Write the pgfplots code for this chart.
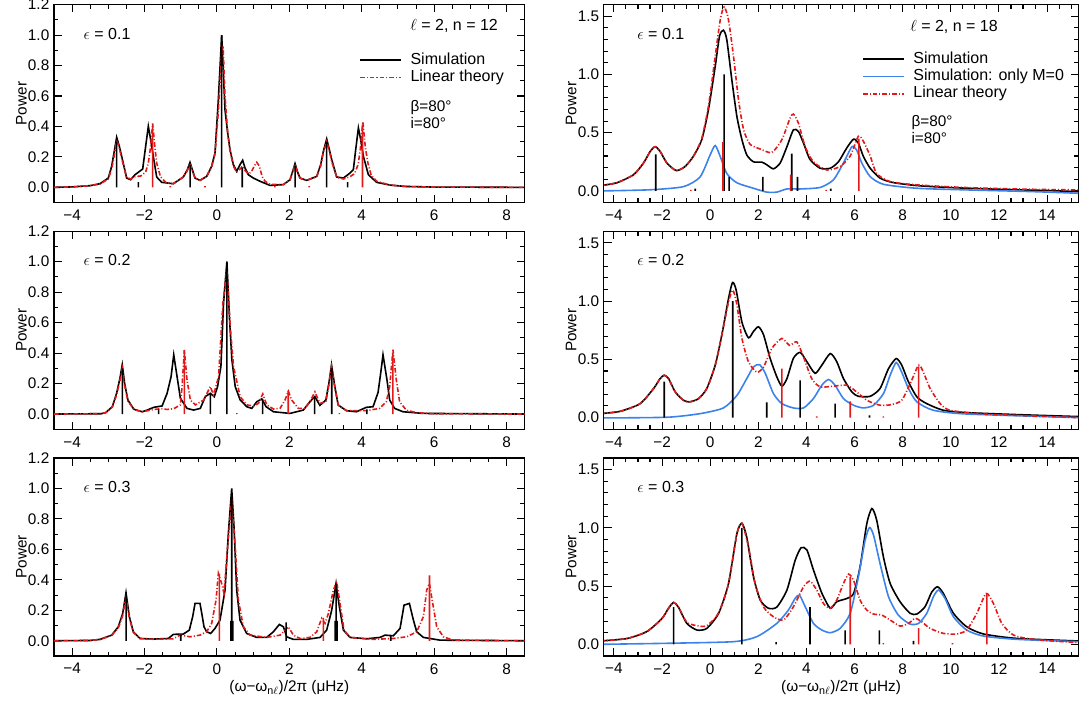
\documentclass[border=0pt]{standalone}
\usepackage{fontspec}
\setmainfont{Liberation Sans}
\usepackage{pgfplots}
\pgfplotsset{compat=1.18}
\definecolor{myred}{RGB}{225,25,25}
\definecolor{myblue}{RGB}{60,130,235}
\newcommand{\fs}{\fontsize{11.5}{12}\selectfont}
\newcommand{\fl}{\fontsize{12}{12}\selectfont}
\newcommand{\fb}{\fontsize{11.5}{12.6}\selectfont}
\pgfplotsset{
 base/.style={scale only axis, height=148.5pt, ymin=-0.1,
   axis line style={line width=0.9pt}, tick style={line width=0.8pt, black},
   major tick length=5.8pt, minor tick length=3.2pt,
   tick align=inside, tick label style={font=\fs},
   /pgf/number format/assume math mode=true,
   xticklabel style={yshift=-2pt},
   ylabel={Power},
   every axis y label/.style={at={(axis description cs:0,0.5)}, xshift=-24.5pt, rotate=90, anchor=center, font=\fs},
   every axis x label/.style={at={(axis description cs:0.5,0)}, anchor=center, yshift=-24pt, font=\fs},
   legend cell align=left,
   legend image code/.code={\draw[##1] (0pt,0pt) -- (30.75pt,0pt);},
 },
 lpanel/.style={base, width=353pt, xmin=-4.5, xmax=8.5, ymax=1.2,
   xtick={-4,-2,0,2,4,6,8}, xticklabels={−4,−2,0,2,4,6,8},
   minor xtick={-4.5,-4,...,8.5},
   ytick={0,0.2,0.4,0.6,0.8,1.0,1.2}, yticklabels={0.0,0.2,0.4,0.6,0.8,1.0,1.2},
   minor ytick={-0.1,0.1,0.3,0.5,0.7,0.9,1.1}},
 rpanel/.style={base, width=355.9pt, xmin=-4.42, xmax=15.3, ymax=1.6,
   xtick={-4,-2,0,2,4,6,8,10,12,14}, xticklabels={−4,−2,0,2,4,6,8,10,12,14},
   minor xtick={-4,-3.5,...,15},
   ytick={0,0.5,1,1.5}, yticklabels={0.0,0.5,1.0,1.5},
   minor ytick={-0.1,0.1,0.2,0.3,0.4,0.6,0.7,0.8,0.9,1.1,1.2,1.3,1.4,1.6}},
 sim/.style={black, line width=1.2pt},
 mzero/.style={myblue, line width=1.2pt},
 lin/.style={myred, line width=1.2pt, dash pattern=on 3.5pt off 1.5pt on 0.8pt off 1.5pt},
 kst/.style={ybar, bar width=1.2pt, bar shift=0pt, fill=black, draw=none, forget plot},
 rst/.style={ybar, bar width=1.2pt, bar shift=0pt, fill=myred, draw=none, forget plot},
 lg/.style={legend style={draw=none, fill=none, inner sep=0pt, row sep=0pt, font=\fl,
   nodes={inner sep=0.5pt, text height=9pt, text depth=3pt}}},
}
\tikzset{every odd column/.append style={column sep=6pt}}
\begin{document}
\begin{tikzpicture}
\path[use as bounding box] (0,0) rectangle (813pt,528.75pt);

% ---------- left, row 1 ----------
\begin{axis}[lpanel, lg, at={(40.5pt,376.8pt)}, anchor=south west,
  legend style={at={(axis description cs:0.648,0.765)}, anchor=north west}]
\addplot[sim] coordinates {(-4.5,0) (-4,0.003) (-3.506,0.011) (-3.23,0.024) (-3.0,0.061) (-2.908,0.138) (-2.843,0.226) (-2.769,0.329) (-2.696,0.27) (-2.631,0.204) (-2.493,0.061) (-2.383,0.05) (-2.263,0.083) (-2.051,0.12) (-1.968,0.27) (-1.895,0.401) (-1.83,0.313) (-1.757,0.204) (-1.664,0.068) (-1.526,0.033) (-1.204,0.024) (-0.928,0.068) (-0.817,0.116) (-0.744,0.164) (-0.679,0.116) (-0.605,0.061) (-0.467,0.046) (-0.283,0.072) (-0.145,0.138) (-0.053,0.226) (0.039,0.576) (0.131,1.0) (0.223,0.51) (0.297,0.357) (0.361,0.248) (0.453,0.149) (0.545,0.105) (0.638,0.149) (0.711,0.178) (0.776,0.127) (0.868,0.083) (1.006,0.061) (1.19,0.04) (1.466,0.013) (1.835,0.018) (2.019,0.05) (2.093,0.105) (2.157,0.156) (2.221,0.105) (2.295,0.061) (2.479,0.046) (2.756,0.072) (2.866,0.149) (2.94,0.237) (3.032,0.318) (3.105,0.248) (3.17,0.182) (3.308,0.068) (3.492,0.061) (3.676,0.094) (3.768,0.116) (3.833,0.248) (3.907,0.39) (3.971,0.313) (4.045,0.204) (4.183,0.083) (4.413,0.033) (4.781,0.015) (5.2,0.006) (6,0.002) (8.5,0)};
\addlegendentry{Simulation}
\addplot[lin] coordinates {(-4.5,0) (-4,0.003) (-3.506,0.011) (-3.23,0.022) (-3.0,0.055) (-2.908,0.12) (-2.843,0.2) (-2.769,0.31) (-2.696,0.26) (-2.631,0.19) (-2.493,0.065) (-2.383,0.055) (-2.263,0.07) (-2.1,0.075) (-1.968,0.1) (-1.895,0.16) (-1.83,0.27) (-1.775,0.42) (-1.72,0.28) (-1.664,0.16) (-1.56,0.07) (-1.4,0.03) (-1.204,0.024) (-0.928,0.068) (-0.817,0.11) (-0.744,0.155) (-0.679,0.11) (-0.605,0.06) (-0.467,0.046) (-0.283,0.072) (-0.145,0.138) (-0.053,0.22) (0.039,0.5) (0.13,0.88) (0.17,0.93) (0.223,0.6) (0.297,0.36) (0.361,0.24) (0.453,0.14) (0.545,0.1) (0.638,0.12) (0.711,0.14) (0.776,0.11) (0.868,0.09) (0.95,0.1) (1.03,0.14) (1.1,0.165) (1.17,0.14) (1.25,0.07) (1.33,0.04) (1.466,0.02) (1.835,0.018) (2.019,0.05) (2.093,0.1) (2.157,0.15) (2.221,0.1) (2.295,0.06) (2.479,0.046) (2.756,0.07) (2.866,0.14) (2.94,0.23) (3.032,0.3) (3.105,0.24) (3.17,0.17) (3.308,0.066) (3.492,0.055) (3.676,0.07) (3.8,0.09) (3.9,0.15) (3.96,0.25) (4.03,0.43) (4.1,0.26) (4.17,0.16) (4.26,0.08) (4.413,0.04) (4.781,0.015) (5.2,0.006) (6,0.002) (8.5,0)};
\addlegendentry{Linear theory}
\addplot[kst] coordinates {(-2.77,0.30) (-2.17,0.035) (-0.74,0.15) (0.13,1.0) (0.70,0.13) (2.16,0.14) (3.03,0.30) (3.61,0.035)};
\addplot[rst] coordinates {(-1.775,0.40) (4.02,0.41) (-1.29,0.008) (-0.33,0.008) (1.6,0.008) (2.55,0.008)};
\node[anchor=west, font=\fl] at (axis description cs:0.053,0.854) {$\epsilon$ = 0.1};
\node[anchor=center, font=\fl] at (axis description cs:0.85,0.891) {$\ell$ = 2, n = 12};
\node[anchor=north west, font=\fb, align=left, inner sep=0pt] at (axis description cs:0.757,0.518) {β=80°\\i=80°};
\end{axis}

% ---------- left, row 2 ----------
\begin{axis}[lpanel, at={(40.5pt,206.8pt)}, anchor=south west]
\addplot[sim] coordinates {(-4.5,0) (-3.2,0.002) (-3.073,0.009) (-2.89,0.048) (-2.771,0.136) (-2.679,0.235) (-2.615,0.323) (-2.55,0.202) (-2.459,0.092) (-2.294,0.031) (-2.064,0.015) (-1.927,0.026) (-1.743,0.044) (-1.514,0.053) (-1.376,0.136) (-1.266,0.246) (-1.193,0.389) (-1.101,0.246) (-1.009,0.103) (-0.826,0.037) (-0.642,0.026) (-0.459,0.037) (-0.321,0.114) (-0.183,0.136) (-0.073,0.114) (0.018,0.18) (0.11,0.312) (0.183,0.73) (0.275,1.0) (0.349,0.62) (0.413,0.356) (0.505,0.18) (0.642,0.092) (0.826,0.048) (0.963,0.037) (1.101,0.081) (1.239,0.099) (1.358,0.048) (1.56,0.015) (2.018,0.004) (2.385,0.026) (2.569,0.081) (2.706,0.114) (2.844,0.057) (3.009,0.092) (3.092,0.202) (3.165,0.323) (3.257,0.18) (3.349,0.059) (3.578,0.022) (3.853,0.015) (4.128,0.044) (4.312,0.048) (4.45,0.141) (4.523,0.268) (4.587,0.389) (4.697,0.224) (4.771,0.092) (4.908,0.037) (5.138,0.015) (5.688,0.004) (8.5,0)};
\addplot[lin] coordinates {(-4.5,0) (-3.2,0.002) (-3.073,0.009) (-2.89,0.045) (-2.771,0.125) (-2.679,0.22) (-2.615,0.30) (-2.55,0.19) (-2.459,0.085) (-2.294,0.03) (-2.064,0.015) (-1.743,0.03) (-1.514,0.035) (-1.376,0.03) (-1.193,0.035) (-1.009,0.06) (-0.963,0.18) (-0.9,0.42) (-0.826,0.224) (-0.734,0.092) (-0.596,0.06) (-0.367,0.092) (-0.183,0.18) (-0.092,0.125) (0.046,0.246) (0.165,0.73) (0.275,0.95) (0.367,0.576) (0.459,0.312) (0.642,0.114) (0.826,0.06) (1.009,0.053) (1.147,0.07) (1.266,0.132) (1.376,0.06) (1.56,0.033) (1.743,0.037) (1.881,0.092) (1.972,0.15) (2.064,0.092) (2.248,0.037) (2.431,0.037) (2.569,0.08) (2.706,0.145) (2.844,0.07) (3.009,0.08) (3.092,0.19) (3.165,0.31) (3.257,0.17) (3.349,0.06) (3.578,0.022) (4.128,0.022) (4.495,0.037) (4.679,0.081) (4.771,0.18) (4.862,0.422) (4.954,0.224) (5.046,0.081) (5.229,0.026) (5.505,0.009) (6,0.002) (8.5,0)};
\addplot[kst] coordinates {(-2.61,0.30) (-1.61,0.03) (-0.18,0.13) (0.275,1.0) (1.26,0.10) (2.7,0.11) (3.17,0.30) (4.14,0.03)};
\addplot[rst] coordinates {(-0.9,0.42) (1.97,0.15) (4.86,0.40) (0.55,0.006) (3.38,0.006)};
\node[anchor=west, font=\fl] at (axis description cs:0.053,0.854) {$\epsilon$ = 0.2};
\end{axis}

% ---------- left, row 3 ----------
\begin{axis}[lpanel, at={(40.5pt,36.75pt)}, anchor=south west,
  xlabel={(ω−ω\textsubscript{n$\ell$})/2π (μHz)}]
\addplot[sim] coordinates {(-4.5,0) (-3.506,0.002) (-3.23,0.009) (-2.907,0.037) (-2.723,0.092) (-2.603,0.179) (-2.511,0.315) (-2.419,0.158) (-2.309,0.059) (-2.125,0.015) (-1.756,0.011) (-1.342,0.015) (-1.204,0.042) (-0.928,0.044) (-0.762,0.07) (-0.67,0.158) (-0.605,0.245) (-0.467,0.245) (-0.403,0.158) (-0.357,0.092) (-0.283,0.059) (-0.173,0.048) (-0.053,0.081) (0.085,0.136) (0.224,0.333) (0.316,0.705) (0.408,1.0) (0.472,0.748) (0.546,0.333) (0.638,0.136) (0.822,0.048) (1.098,0.022) (1.374,0.022) (1.559,0.059) (1.724,0.107) (1.835,0.092) (1.927,0.026) (2.111,0.009) (2.479,0.009) (2.848,0.022) (3.032,0.07) (3.17,0.201) (3.29,0.376) (3.382,0.223) (3.493,0.07) (3.677,0.022) (4.137,0.013) (4.505,0.022) (4.643,0.037) (4.874,0.033) (5.058,0.081) (5.168,0.234) (5.316,0.245) (5.426,0.136) (5.518,0.059) (5.702,0.022) (6.163,0.004) (8.5,0)};
\addplot[lin] coordinates {(-4.5,0) (-3.506,0.002) (-3.23,0.008) (-2.907,0.035) (-2.723,0.085) (-2.603,0.165) (-2.511,0.29) (-2.419,0.15) (-2.309,0.055) (-2.125,0.015) (-1.756,0.01) (-1.342,0.012) (-1.204,0.013) (-1.02,0.037) (-0.743,0.026) (-0.467,0.037) (-0.283,0.059) (-0.145,0.114) (-0.025,0.267) (0.04,0.442) (0.131,0.376) (0.196,0.31) (0.288,0.595) (0.408,0.923) (0.5,0.639) (0.592,0.267) (0.73,0.092) (0.914,0.037) (1.374,0.022) (1.743,0.037) (1.881,0.07) (1.973,0.092) (2.111,0.037) (2.295,0.015) (2.571,0.022) (2.756,0.059) (2.894,0.147) (2.986,0.114) (3.078,0.179) (3.216,0.333) (3.308,0.387) (3.4,0.245) (3.511,0.07) (3.677,0.022) (4.321,0.009) (4.874,0.015) (5.242,0.026) (5.518,0.059) (5.702,0.158) (5.794,0.333) (5.868,0.376) (5.96,0.245) (6.07,0.092) (6.255,0.026) (6.531,0.004) (8.5,0)};
\addplot[kst] coordinates {(-2.51,0.32) (-1.0,0.04) (0.41,0.95) (1.91,0.12) (3.29,0.37) (4.8,0.03)};
\addplot[kst, bar width=2.6pt] coordinates {(0.41,0.13) (3.29,0.13)};
\addplot[rst] coordinates {(0.067,0.44) (2.94,0.15) (5.87,0.43)};
\node[anchor=west, font=\fl] at (axis description cs:0.053,0.854) {$\epsilon$ = 0.3};
\end{axis}

% ---------- right, row 1 ----------
\begin{axis}[rpanel, lg, at={(452.85pt,376.8pt)}, anchor=south west,
  legend style={at={(axis description cs:0.544,0.77)}, anchor=north west}]
\addplot[sim, smooth, tension=0.4] coordinates {(-4.57,0.046) (-3.88,0.07) (-3.18,0.14) (-2.77,0.24) (-2.49,0.34) (-2.285,0.38) (-2.08,0.34) (-1.8,0.24) (-1.41,0.175) (-1.04,0.21) (-0.69,0.30) (-0.35,0.44) (-0.07,0.70) (0.21,1.07) (0.39,1.33) (0.55,1.38) (0.69,1.30) (0.9,0.955) (1.11,0.64) (1.32,0.44) (1.52,0.31) (1.8,0.25) (2.15,0.247) (2.35,0.225) (2.63,0.19) (2.91,0.24) (3.19,0.38) (3.46,0.525) (3.67,0.51) (3.88,0.41) (4.15,0.27) (4.57,0.195) (4.99,0.195) (5.33,0.25) (5.68,0.37) (5.96,0.445) (6.16,0.41) (6.37,0.295) (6.65,0.195) (7.06,0.11) (7.6,0.072) (8.59,0.046) (9.97,0.029) (12.05,0.014) (14.1,0.003) (15.3,-0.006)};
\addlegendentry{Simulation}
\addplot[mzero, smooth, tension=0.4] coordinates {(-4.57,0.0) (-2.49,0.01) (-1.11,0.037) (-0.42,0.12) (0.0,0.31) (0.21,0.39) (0.42,0.295) (0.69,0.15) (1.11,0.07) (1.8,0.023) (2.35,-0.01) (2.77,-0.01) (3.19,0.017) (3.74,0.017) (4.57,0.03) (5.12,0.095) (5.54,0.24) (5.89,0.38) (6.09,0.35) (6.3,0.24) (6.65,0.123) (7.2,0.057) (8.59,0.023) (10.66,0.009) (13.43,-0.006) (15.3,-0.02)};
\addlegendentry{Simulation: only M=0}
\addplot[lin, smooth, tension=0.4] coordinates {(-4.57,0.046) (-3.88,0.07) (-3.18,0.14) (-2.77,0.24) (-2.49,0.34) (-2.285,0.38) (-2.08,0.34) (-1.8,0.24) (-1.41,0.175) (-1.04,0.21) (-0.69,0.30) (-0.35,0.45) (-0.07,0.73) (0.21,1.156) (0.42,1.47) (0.58,1.58) (0.76,1.47) (0.97,1.156) (1.18,0.78) (1.39,0.525) (1.66,0.40) (2.08,0.36) (2.56,0.33) (2.98,0.44) (3.32,0.625) (3.46,0.66) (3.67,0.58) (3.95,0.38) (4.29,0.25) (4.85,0.18) (5.4,0.21) (5.82,0.30) (6.16,0.47) (6.37,0.425) (6.65,0.30) (6.92,0.15) (7.48,0.08) (8.59,0.052) (10.66,0.029) (13.43,0.014) (15.3,0.009)};
\addlegendentry{Linear theory}
\addplot[kst] coordinates {(-2.26,0.315) (-0.62,0.02) (0.58,1.0) (0.79,0.12) (2.19,0.12) (3.39,0.32) (3.63,0.12) (5.01,0.02)};
\addplot[rst] coordinates {(0.53,0.42) (3.35,0.14) (6.18,0.45) (-0.8,0.01) (4.82,0.01)};
\node[anchor=west, font=\fl] at (axis description cs:0.061,0.854) {$\epsilon$ = 0.1};
\node[anchor=center, font=\fl] at (axis description cs:0.738,0.888) {$\ell$ = 2, n = 18};
\node[anchor=north west, font=\fb, align=left, inner sep=0pt] at (axis description cs:0.648,0.441) {β=80°\\i=80°};
\end{axis}

% ---------- right, row 2 ----------
\begin{axis}[rpanel, at={(452.85pt,206.8pt)}, anchor=south west]
\addplot[sim, smooth, tension=0.4] coordinates {(-4.57,0.034) (-3.74,0.054) (-2.91,0.12) (-2.35,0.25) (-2.08,0.335) (-1.91,0.364) (-1.73,0.335) (-1.45,0.22) (-1.11,0.149) (-0.86,0.135) (-0.48,0.163) (-0.14,0.25) (0.21,0.45) (0.485,0.71) (0.76,1.02) (0.93,1.16) (1.08,1.095) (1.32,0.82) (1.59,0.685) (1.80,0.74) (2.01,0.78) (2.22,0.71) (2.49,0.51) (2.77,0.35) (2.98,0.27) (3.19,0.335) (3.46,0.51) (3.74,0.56) (4.02,0.48) (4.36,0.38) (4.64,0.45) (4.99,0.55) (5.26,0.48) (5.54,0.335) (5.89,0.22) (6.16,0.183) (6.65,0.183) (7.06,0.25) (7.41,0.42) (7.73,0.507) (7.96,0.45) (8.24,0.307) (8.59,0.178) (9.0,0.12) (9.69,0.063) (10.66,0.043) (12.74,0.026) (15.3,0.009)};
\addplot[mzero, smooth, tension=0.4] coordinates {(-4.57,-0.003) (-1.8,0.003) (-0.42,0.034) (0.55,0.083) (1.11,0.19) (1.52,0.335) (1.8,0.435) (2.05,0.455) (2.29,0.38) (2.63,0.206) (2.98,0.12) (3.46,0.083) (3.88,0.083) (4.29,0.163) (4.64,0.278) (4.92,0.327) (5.19,0.278) (5.54,0.163) (5.96,0.106) (6.37,0.083) (6.79,0.106) (7.2,0.206) (7.48,0.364) (7.73,0.473) (7.96,0.39) (8.24,0.25) (8.59,0.135) (9.28,0.063) (10.66,0.031) (15.3,0.0)};
\addplot[lin, smooth, tension=0.4] coordinates {(-4.57,0.034) (-3.74,0.054) (-2.91,0.12) (-2.35,0.25) (-2.08,0.335) (-1.91,0.364) (-1.73,0.335) (-1.45,0.22) (-1.11,0.149) (-0.86,0.135) (-0.48,0.163) (-0.14,0.25) (0.21,0.45) (0.485,0.71) (0.76,0.99) (0.94,1.095) (1.11,0.97) (1.32,0.68) (1.59,0.48) (1.94,0.39) (2.22,0.435) (2.56,0.593) (2.98,0.68) (3.3,0.62) (3.6,0.65) (3.88,0.52) (4.22,0.335) (4.57,0.264) (5.12,0.27) (5.68,0.278) (6.09,0.22) (6.51,0.149) (7.06,0.106) (7.55,0.112) (7.96,0.149) (8.31,0.29) (8.66,0.45) (8.86,0.39) (9.14,0.25) (9.56,0.12) (9.97,0.063) (11.36,0.031) (13.43,0.014) (15.3,0.0)};
\addplot[kst] coordinates {(-1.91,0.31) (0.94,1.0) (2.35,0.13) (3.74,0.32) (5.19,0.12) (6.62,0.02)};
\addplot[rst] coordinates {(2.98,0.42) (5.82,0.14) (8.66,0.44) (4.43,0.01) (7.2,0.01)};
\node[anchor=west, font=\fl] at (axis description cs:0.061,0.854) {$\epsilon$ = 0.2};
\end{axis}

% ---------- right, row 3 ----------
\begin{axis}[rpanel, at={(452.85pt,36.75pt)}, anchor=south west,
  xlabel={(ω−ω\textsubscript{n$\ell$})/2π (μHz)}]
\addplot[sim, smooth, tension=0.4] coordinates {(-4.57,0.029) (-3.46,0.05) (-2.63,0.11) (-2.01,0.22) (-1.73,0.31) (-1.52,0.36) (-1.32,0.32) (-0.97,0.18) (-0.55,0.123) (-0.14,0.137) (0.35,0.266) (0.76,0.52) (1.11,0.95) (1.32,1.04) (1.52,0.92) (1.80,0.58) (2.08,0.38) (2.42,0.31) (2.77,0.32) (3.19,0.466) (3.53,0.72) (3.78,0.83) (4.02,0.81) (4.29,0.64) (4.64,0.44) (4.99,0.31) (5.26,0.366) (5.68,0.394) (5.96,0.437) (6.23,0.666) (6.51,1.037) (6.72,1.166) (6.92,1.066) (7.20,0.75) (7.48,0.523) (7.89,0.366) (8.31,0.266) (8.59,0.26) (8.93,0.323) (9.21,0.45) (9.45,0.494) (9.69,0.437) (10.11,0.266) (10.66,0.151) (11.36,0.089) (12.74,0.051) (15.3,0.029)};
\addplot[mzero, smooth, tension=0.4] coordinates {(-4.57,0.0) (-1.8,0.009) (0.97,0.023) (1.94,0.066) (2.77,0.18) (3.25,0.294) (3.53,0.394) (3.71,0.423) (3.95,0.323) (4.29,0.18) (4.64,0.123) (4.99,0.1) (5.4,0.137) (5.82,0.266) (6.16,0.58) (6.44,0.894) (6.62,1.003) (6.79,0.937) (7.06,0.694) (7.41,0.41) (7.82,0.251) (8.31,0.174) (8.66,0.18) (9.0,0.266) (9.28,0.41) (9.49,0.466) (9.76,0.394) (10.11,0.237) (10.66,0.123) (11.36,0.071) (12.74,0.043) (15.3,0.023)};
\addplot[lin, smooth, tension=0.4] coordinates {(-4.57,0.029) (-3.46,0.05) (-2.63,0.11) (-2.01,0.22) (-1.73,0.31) (-1.52,0.36) (-1.32,0.32) (-0.97,0.19) (-0.55,0.16) (-0.14,0.16) (0.35,0.27) (0.76,0.52) (1.11,0.95) (1.32,1.04) (1.59,0.84) (1.87,0.52) (2.22,0.32) (2.63,0.237) (3.05,0.209) (3.46,0.323) (3.88,0.494) (4.15,0.543) (4.43,0.466) (4.71,0.35) (4.99,0.31) (5.26,0.38) (5.54,0.523) (5.75,0.603) (5.96,0.55) (6.23,0.38) (6.51,0.294) (6.79,0.26) (7.13,0.251) (7.48,0.209) (7.89,0.157) (8.24,0.18) (8.52,0.223) (8.79,0.194) (9.14,0.137) (9.69,0.094) (10.25,0.089) (10.66,0.123) (11.08,0.266) (11.47,0.437) (11.77,0.351) (12.12,0.18) (12.6,0.08) (13.43,0.043) (15.3,0.014)};
\addplot[kst] coordinates {(-1.52,0.32) (1.32,1.0) (2.74,0.02) (4.15,0.32) (5.61,0.12) (7.03,0.12) (8.45,0.03)};
\addplot[rst] coordinates {(5.82,0.58) (8.66,0.14) (11.5,0.44) (7.2,0.01) (10.07,0.01)};
\node[anchor=west, font=\fl] at (axis description cs:0.061,0.854) {$\epsilon$ = 0.3};
\end{axis}
\end{tikzpicture}
\end{document}
